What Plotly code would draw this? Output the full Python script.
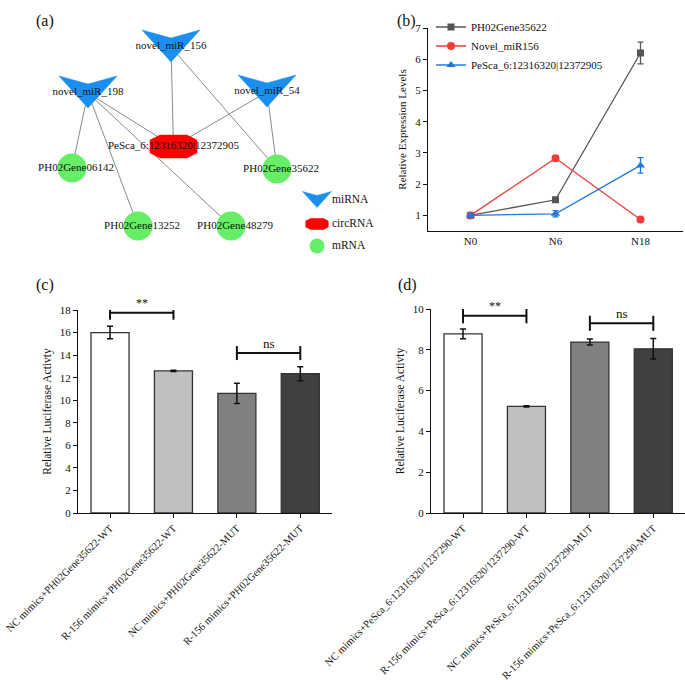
import plotly.graph_objects as go

FONT = "Liberation Serif"

# ---------------- (a) network data ----------------
mirna_names = ["novel_miR_156", "novel_miR_198", "novel_miR_54"]
mirna_x = [171, 88, 267]
mirna_y = [47, 93, 92]
circ_names = ["PeSca_6:12316320|12372905"]
circ_x = [173.5]
circ_y = [146.5]
mrna_names = ["PH02Gene06142", "PH02Gene35622", "PH02Gene13252", "PH02Gene48279"]
mrna_x = [72, 277, 138, 231]
mrna_y = [168, 169, 226, 226]
edge_source = ["novel_miR_156", "novel_miR_156", "novel_miR_54", "novel_miR_54",
               "novel_miR_198", "novel_miR_198", "novel_miR_198", "novel_miR_198"]
edge_target = ["PeSca_6:12316320|12372905", "PH02Gene35622", "PeSca_6:12316320|12372905",
               "PH02Gene35622", "PeSca_6:12316320|12372905", "PH02Gene06142",
               "PH02Gene13252", "PH02Gene48279"]
net_legend_labels = ["miRNA", "circRNA", "mRNA"]

# ---------------- (b) expression data ----------------
time_points = ["N0", "N6", "N18"]
gene_name = "PH02Gene35622"
gene_vals = [1.0, 1.5, 6.2]
gene_err = [0.02, 0.04, 0.35]
mir_name = "Novel_miR156"
mir_vals = [1.0, 2.83, 0.87]
mir_err = [0.03, 0.08, 0.03]
circ_name = "PeSca_6:12316320|12372905"
circ_vals = [1.0, 1.05, 2.6]
circ_err = [0.04, 0.1, 0.25]

# ---------------- (c) luciferase data ----------------
c_labels = ["NC mimics+PH02Gene35622-WT", "R-156 mimics+PH02Gene35622-WT",
            "NC mimics+PH02Gene35622-MUT", "R-156 mimics+PH02Gene35622-MUT"]
c_vals = [16.0, 12.6, 10.6, 12.35]
c_err = [0.55, 0.06, 0.9, 0.62]

# ---------------- (d) luciferase data ----------------
d_labels = ["NC mimics+PeSca_6:12316320/1237290-WT", "R-156 mimics+PeSca_6:12316320/1237290-WT",
            "NC mimics+PeSca_6:12316320/1237290-MUT", "R-156 mimics+PeSca_6:12316320/1237290-MUT"]
d_vals = [8.78, 5.23, 8.38, 8.05]
d_err = [0.24, 0.03, 0.15, 0.5]

bar_colors = ["#ffffff", "#c0c0c0", "#808080", "#404040"]

W, H = 685, 680
fig = go.Figure()

# ---------- network ----------
pos = {}
for n, x, y in zip(mirna_names, mirna_x, mirna_y):
    pos[n] = (x, y)
for n, x, y in zip(circ_names, circ_x, circ_y):
    pos[n] = (x, y)
for n, x, y in zip(mrna_names, mrna_x, mrna_y):
    pos[n] = (x, y)

ex, ey = [], []
for s, t in zip(edge_source, edge_target):
    ex += [pos[s][0], pos[t][0], None]
    ey += [pos[s][1], pos[t][1], None]
fig.add_trace(go.Scatter(x=ex, y=ey, mode="lines", line=dict(color="#8a8a8a", width=1),
                         xaxis="x4", yaxis="y4", showlegend=False, hoverinfo="skip"))

V_SHAPE = [(-29, -17), (0, -9), (29, -17), (0, 15)]
OCT = [(-13.5, -11.5), (13.5, -11.5), (23.5, -6.5), (23.5, 6.5), (13.5, 11.5),
       (-13.5, 11.5), (-23.5, 6.5), (-23.5, -6.5)]
MIR_COLOR = "#1a8ff0"
CIRC_COLOR = "#ff0000"
MRNA_COLOR = "#66ee66"


def poly(cx, cy, shape, s=1.0):
    xs = [cx + dx * s for dx, dy in shape] + [cx + shape[0][0] * s, None]
    ys = [cy + dy * s for dx, dy in shape] + [cy + shape[0][1] * s, None]
    return xs, ys


# legend positions for network (canvas pixel units)
leg_sym_x = 317
leg_y = [200, 224, 246]
leg_txt_x = 332

vx, vy = [], []
for x, y in zip(mirna_x, mirna_y):
    a, b = poly(x, y, V_SHAPE)
    vx += a; vy += b
a, b = poly(leg_sym_x, leg_y[0], V_SHAPE, 0.5)
vx += a; vy += b
fig.add_trace(go.Scatter(x=vx, y=vy, mode="lines", fill="toself", fillcolor=MIR_COLOR,
                         line=dict(color=MIR_COLOR, width=0.5), xaxis="x4", yaxis="y4",
                         showlegend=False, hoverinfo="skip"))
ox, oy = [], []
for x, y in zip(circ_x, circ_y):
    a, b = poly(x, y, OCT)
    ox += a; oy += b
a, b = poly(leg_sym_x, leg_y[1], OCT, 0.48)
ox += a; oy += b
fig.add_trace(go.Scatter(x=ox, y=oy, mode="lines", fill="toself", fillcolor=CIRC_COLOR,
                         line=dict(color=CIRC_COLOR, width=0.5), xaxis="x4", yaxis="y4",
                         showlegend=False, hoverinfo="skip"))
fig.add_trace(go.Scatter(x=mrna_x, y=mrna_y, mode="markers",
                         marker=dict(symbol="circle", size=29, color=MRNA_COLOR, line=dict(width=0)),
                         xaxis="x4", yaxis="y4", showlegend=False, hoverinfo="skip"))
fig.add_trace(go.Scatter(x=[leg_sym_x], y=[leg_y[2]], mode="markers",
                         marker=dict(symbol="circle", size=15, color=MRNA_COLOR, line=dict(width=0)),
                         xaxis="x4", yaxis="y4", showlegend=False, hoverinfo="skip"))

MRNA_LABEL_DX = 4
fig.add_trace(go.Scatter(
    x=mirna_x + circ_x + [x + MRNA_LABEL_DX for x in mrna_x],
    y=[y - 1 for y in mirna_y] + circ_y + mrna_y,
    text=mirna_names + circ_names + mrna_names, mode="text",
    textfont=dict(family=FONT, size=11, color="#111"), cliponaxis=False,
    xaxis="x4", yaxis="y4", showlegend=False, hoverinfo="skip"))
fig.add_trace(go.Scatter(
    x=[leg_txt_x] * 3, y=leg_y, text=net_legend_labels, mode="text", textposition="middle right",
    textfont=dict(family=FONT, size=11.5, color="#111"), cliponaxis=False,
    xaxis="x4", yaxis="y4", showlegend=False, hoverinfo="skip"))

# ---------- (b) line chart ----------
series = [
    (gene_name, gene_vals, gene_err, "#555555", "square", 7),
    (mir_name, mir_vals, mir_err, "#ee3b3b", "circle", 8),
    (circ_name, circ_vals, circ_err, "#1f78e0", "triangle-up", 8),
]
for name, vals, err, col, sym, sz in series:
    fig.add_trace(go.Scatter(
        x=time_points, y=vals, name=name, mode="lines+markers",
        line=dict(color=col, width=1.3), marker=dict(symbol=sym, size=sz, color=col),
        error_y=dict(type="data", array=err, color=col, thickness=1.3, width=3),
        xaxis="x", yaxis="y"))

# ---------- (c) & (d) bars ----------
def add_bars(labels, vals, err, xa, ya):
    fig.add_trace(go.Bar(
        x=labels, y=vals, width=0.6,
        marker=dict(color=bar_colors, line=dict(color="#333333", width=1.3)),
        error_y=dict(type="data", array=err, color="#111", thickness=1.5, width=3),
        xaxis=xa, yaxis=ya, showlegend=False, hoverinfo="skip"))


add_bars(c_labels, c_vals, c_err, "x2", "y2")
add_bars(d_labels, d_vals, d_err, "x3", "y3")

# significance brackets (pair indices, bracket level, label)
c_sig_pairs = [(0, 1), (2, 3)]
c_sig_level = [17.76, 14.18]
c_sig_text = ["**", "ns"]
d_sig_pairs = [(0, 1), (2, 3)]
d_sig_level = [9.67, 9.30]
d_sig_text = ["**", "ns"]


def add_brackets(labels, pairs, levels, texts, tick_h, txt_dy, xa, ya):
    bx, by = [], []
    for (i, j), lv in zip(pairs, levels):
        a, b = labels[i], labels[j]
        bx += [a, b, None, a, a, None, b, b, None]
        by += [lv, lv, None, lv - tick_h, lv + tick_h, None, lv - tick_h, lv + tick_h, None]
    fig.add_trace(go.Scatter(x=bx, y=by, mode="lines", line=dict(color="#111", width=2),
                             xaxis=xa, yaxis=ya, showlegend=False, hoverinfo="skip"))
    for (i, j), lv, t in zip(pairs, levels, texts):
        fig.add_annotation(x=(i + j) / 2, y=lv, xref=xa, yref=ya, text=t, showarrow=False,
                           yshift=txt_dy, font=dict(family=FONT, size=13 if t == "ns" else 12, color="#111"))


add_brackets(c_labels, c_sig_pairs, c_sig_level, c_sig_text, 0.62, 10, "x2", "y2")
add_brackets(d_labels, d_sig_pairs, d_sig_level, d_sig_text, 0.37, 10, "x3", "y3")


def px_x(a, b):
    return [a / W, min(b / W, 1.0)]


def px_y(top, bottom):
    return [1 - bottom / H, 1 - top / H]


axis_common = dict(showline=True, linecolor="#111", linewidth=1.2, ticks="outside",
                   ticklen=4, tickcolor="#111", showgrid=False, zeroline=False, automargin=False,
                   tickfont=dict(family=FONT, size=11, color="#111"))
bar_xaxis = {**axis_common, "tickfont": dict(family=FONT, size=10.5, color="#111"), "tickangle": -45}


def ytitle(text, size, standoff):
    return dict(text=text, font=dict(family=FONT, size=size, color="#111"), standoff=standoff)


fig.update_layout(
    width=W, height=H, margin=dict(l=0, r=0, t=0, b=0, autoexpand=False),
    paper_bgcolor="white", plot_bgcolor="white",
    font=dict(family=FONT, color="#111"),
    showlegend=True,
    legend=dict(x=431 / W, y=1 - 12.5 / H, xanchor="left", yanchor="top",
                bgcolor="rgba(0,0,0,0)", font=dict(family=FONT, size=11, color="#111"),
                itemwidth=30, tracegroupgap=0),
    # (b)
    xaxis=dict(domain=px_x(428, 683), anchor="y", type="category", range=[-0.5, 2.5],
               **{**axis_common, "ticks": ""}),
    yaxis=dict(domain=px_y(28, 231), anchor="x", range=[0.5, 7], tickvals=[1, 2, 3, 4, 5, 6, 7],
               title=ytitle("Relative Expression Levels", 11, 6), **axis_common),
    # (c)
    xaxis2=dict(domain=px_x(78, 332), anchor="y2", type="category", range=[-0.505, 3.5],
                **bar_xaxis),
    yaxis2=dict(domain=px_y(310, 513), anchor="x2", range=[0, 18], dtick=2,
                title=ytitle("Relative Luciferase Activty", 11.5, 5), **axis_common),
    # (d)
    xaxis3=dict(domain=px_x(431, 685), anchor="y3", type="category", range=[-0.505, 3.5],
                **bar_xaxis),
    yaxis3=dict(domain=px_y(309, 513), anchor="x3", range=[0, 10], dtick=2,
                title=ytitle("Relative Luciferase Activty", 11.5, 5), **axis_common),
    # (a) network canvas in pixel units
    xaxis4=dict(domain=px_x(0, 340), anchor="y4", range=[0, 340], visible=False, fixedrange=True,
                automargin=False),
    yaxis4=dict(domain=px_y(0, 300), anchor="x4", range=[300, 0], visible=False, fixedrange=True,
                automargin=False),
)

panel_labels = ["(a)", "(b)", "(c)", "(d)"]
panel_px = [(34, 10), (406, 10), (34, 285), (407, 285)]
for t, (x, y) in zip(panel_labels, panel_px):
    fig.add_annotation(x=x / W, y=1 - y / H, xref="paper", yref="paper", text=t, showarrow=False,
                       font=dict(family=FONT, size=16, color="#111"))

fig.write_html("out.html", config={"displayModeBar": False},
               post_script="document.body.style.margin='0px';")
